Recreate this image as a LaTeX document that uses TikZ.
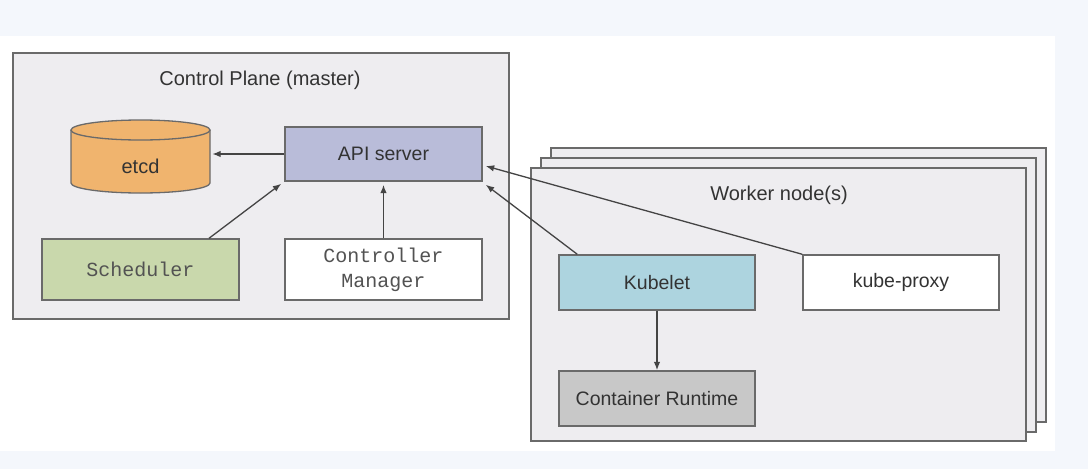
\documentclass[tikz,border=0pt]{standalone}
\usepackage{fontspec}
\setmainfont{Liberation Sans}
\setmonofont{Liberation Mono}
\usetikzlibrary{arrows.meta}
\definecolor{bgblue}{HTML}{F4F7FC}
\definecolor{panelfill}{HTML}{EEEDF0}
\definecolor{edge}{HTML}{6A6A6A}
\definecolor{txt}{HTML}{333333}
\definecolor{etcdfill}{HTML}{F0B46E}
\definecolor{apifill}{HTML}{B9BCD9}
\definecolor{schedfill}{HTML}{C9D8AC}
\definecolor{kubfill}{HTML}{ADD4DF}
\definecolor{crfill}{HTML}{C8C8C8}
\definecolor{arr}{HTML}{444444}
\tikzset{
  panel/.style={draw=edge, line width=1.4pt, fill=panelfill, inner sep=0pt},
  comp/.style={draw=edge, line width=1.4pt, inner sep=0pt, text=txt, align=center,
    font=\fontsize{19.5}{25}\selectfont},
  monotext/.style={font=\ttfamily\fontsize{20}{25}\selectfont, text=black!68},
  label/.style={text=txt, font=\fontsize{20}{24}\selectfont},
  conn/.style={draw=arr, line width=1.3pt, -{Latex[length=8.5pt,width=6.5pt]}}
}
\begin{document}
\begin{tikzpicture}[x=1pt,y=-1pt]
\useasboundingbox (0,0) rectangle (1088,469);
\fill[bgblue] (0,0) rectangle (1088,469);
\fill[white] (0,36) rectangle (1055,451);

% Control plane
\node[panel, minimum width=496pt, minimum height=266pt] (cp) at (261,186) {};
\node[label] (cptitle) at (260,80) {Control Plane (master)};

% etcd cylinder
\node[minimum width=139pt, minimum height=73pt, inner sep=0pt] (etcd) at (140.5,156.5) {};
\fill[etcdfill] (71,130) -- (71,183) arc[start angle=180, end angle=360, x radius=69.5pt, y radius=10pt]
  -- (210,130) arc[start angle=0, end angle=180, x radius=69.5pt, y radius=10pt] -- cycle;
\draw[edge, line width=1.3pt] (71,130) -- (71,183) arc[start angle=180, end angle=360, x radius=69.5pt, y radius=10pt]
  -- (210,130);
\draw[edge, line width=1.3pt] (140.5,130) ellipse[x radius=69.5pt, y radius=10pt];
\node[label] (etcdlabel) at (140.5,166) {etcd};

\node[comp, fill=apifill, minimum width=197pt, minimum height=54pt] (api) at (383.5,154) {API server};
\node[comp, fill=schedfill, minimum width=197pt, minimum height=61pt, monotext] (sched) at (140.5,269.5) {Scheduler};
\node[comp, fill=white, minimum width=197pt, minimum height=61pt, monotext] (cm) at (383.5,269.5) {Controller\\Manager};

% Worker stack
\node[panel, minimum width=495pt, minimum height=274pt] (w3) at (798.5,285) {};
\node[panel, minimum width=495pt, minimum height=274pt] (w2) at (788.5,295) {};
\node[panel, minimum width=495pt, minimum height=273pt] (w1) at (778.5,304.5) {};
\node[label] (wtitle) at (779,195) {Worker node(s)};

\node[comp, fill=kubfill, minimum width=196pt, minimum height=55pt] (kubelet) at (657,282.5) {Kubelet};
\node[comp, fill=white, minimum width=196pt, minimum height=55pt] (proxy) at (901,282.5) {kube-proxy};
\node[comp, fill=crfill, minimum width=196pt, minimum height=55pt] (cr) at (657,398.5) {Container Runtime};

% Connectors
\draw[conn] (api.west) -- ([xshift=2pt]etcd.east |- api.west);
\draw[conn] ([xshift=68.5pt]sched.north) -- ([shift={(-3pt,-2pt)}]api.south west);
\draw[conn] (cm.north) -- ([yshift=-3pt]api.south);
\draw[conn] ([xshift=19pt]kubelet.north west) -- ([shift={(3pt,-3pt)}]api.south east);
\draw[conn] (proxy.north west) -- ([shift={(3pt,-12pt)}]api.east);
\draw[conn] (kubelet.south) -- (cr.north);
\end{tikzpicture}
\end{document}
